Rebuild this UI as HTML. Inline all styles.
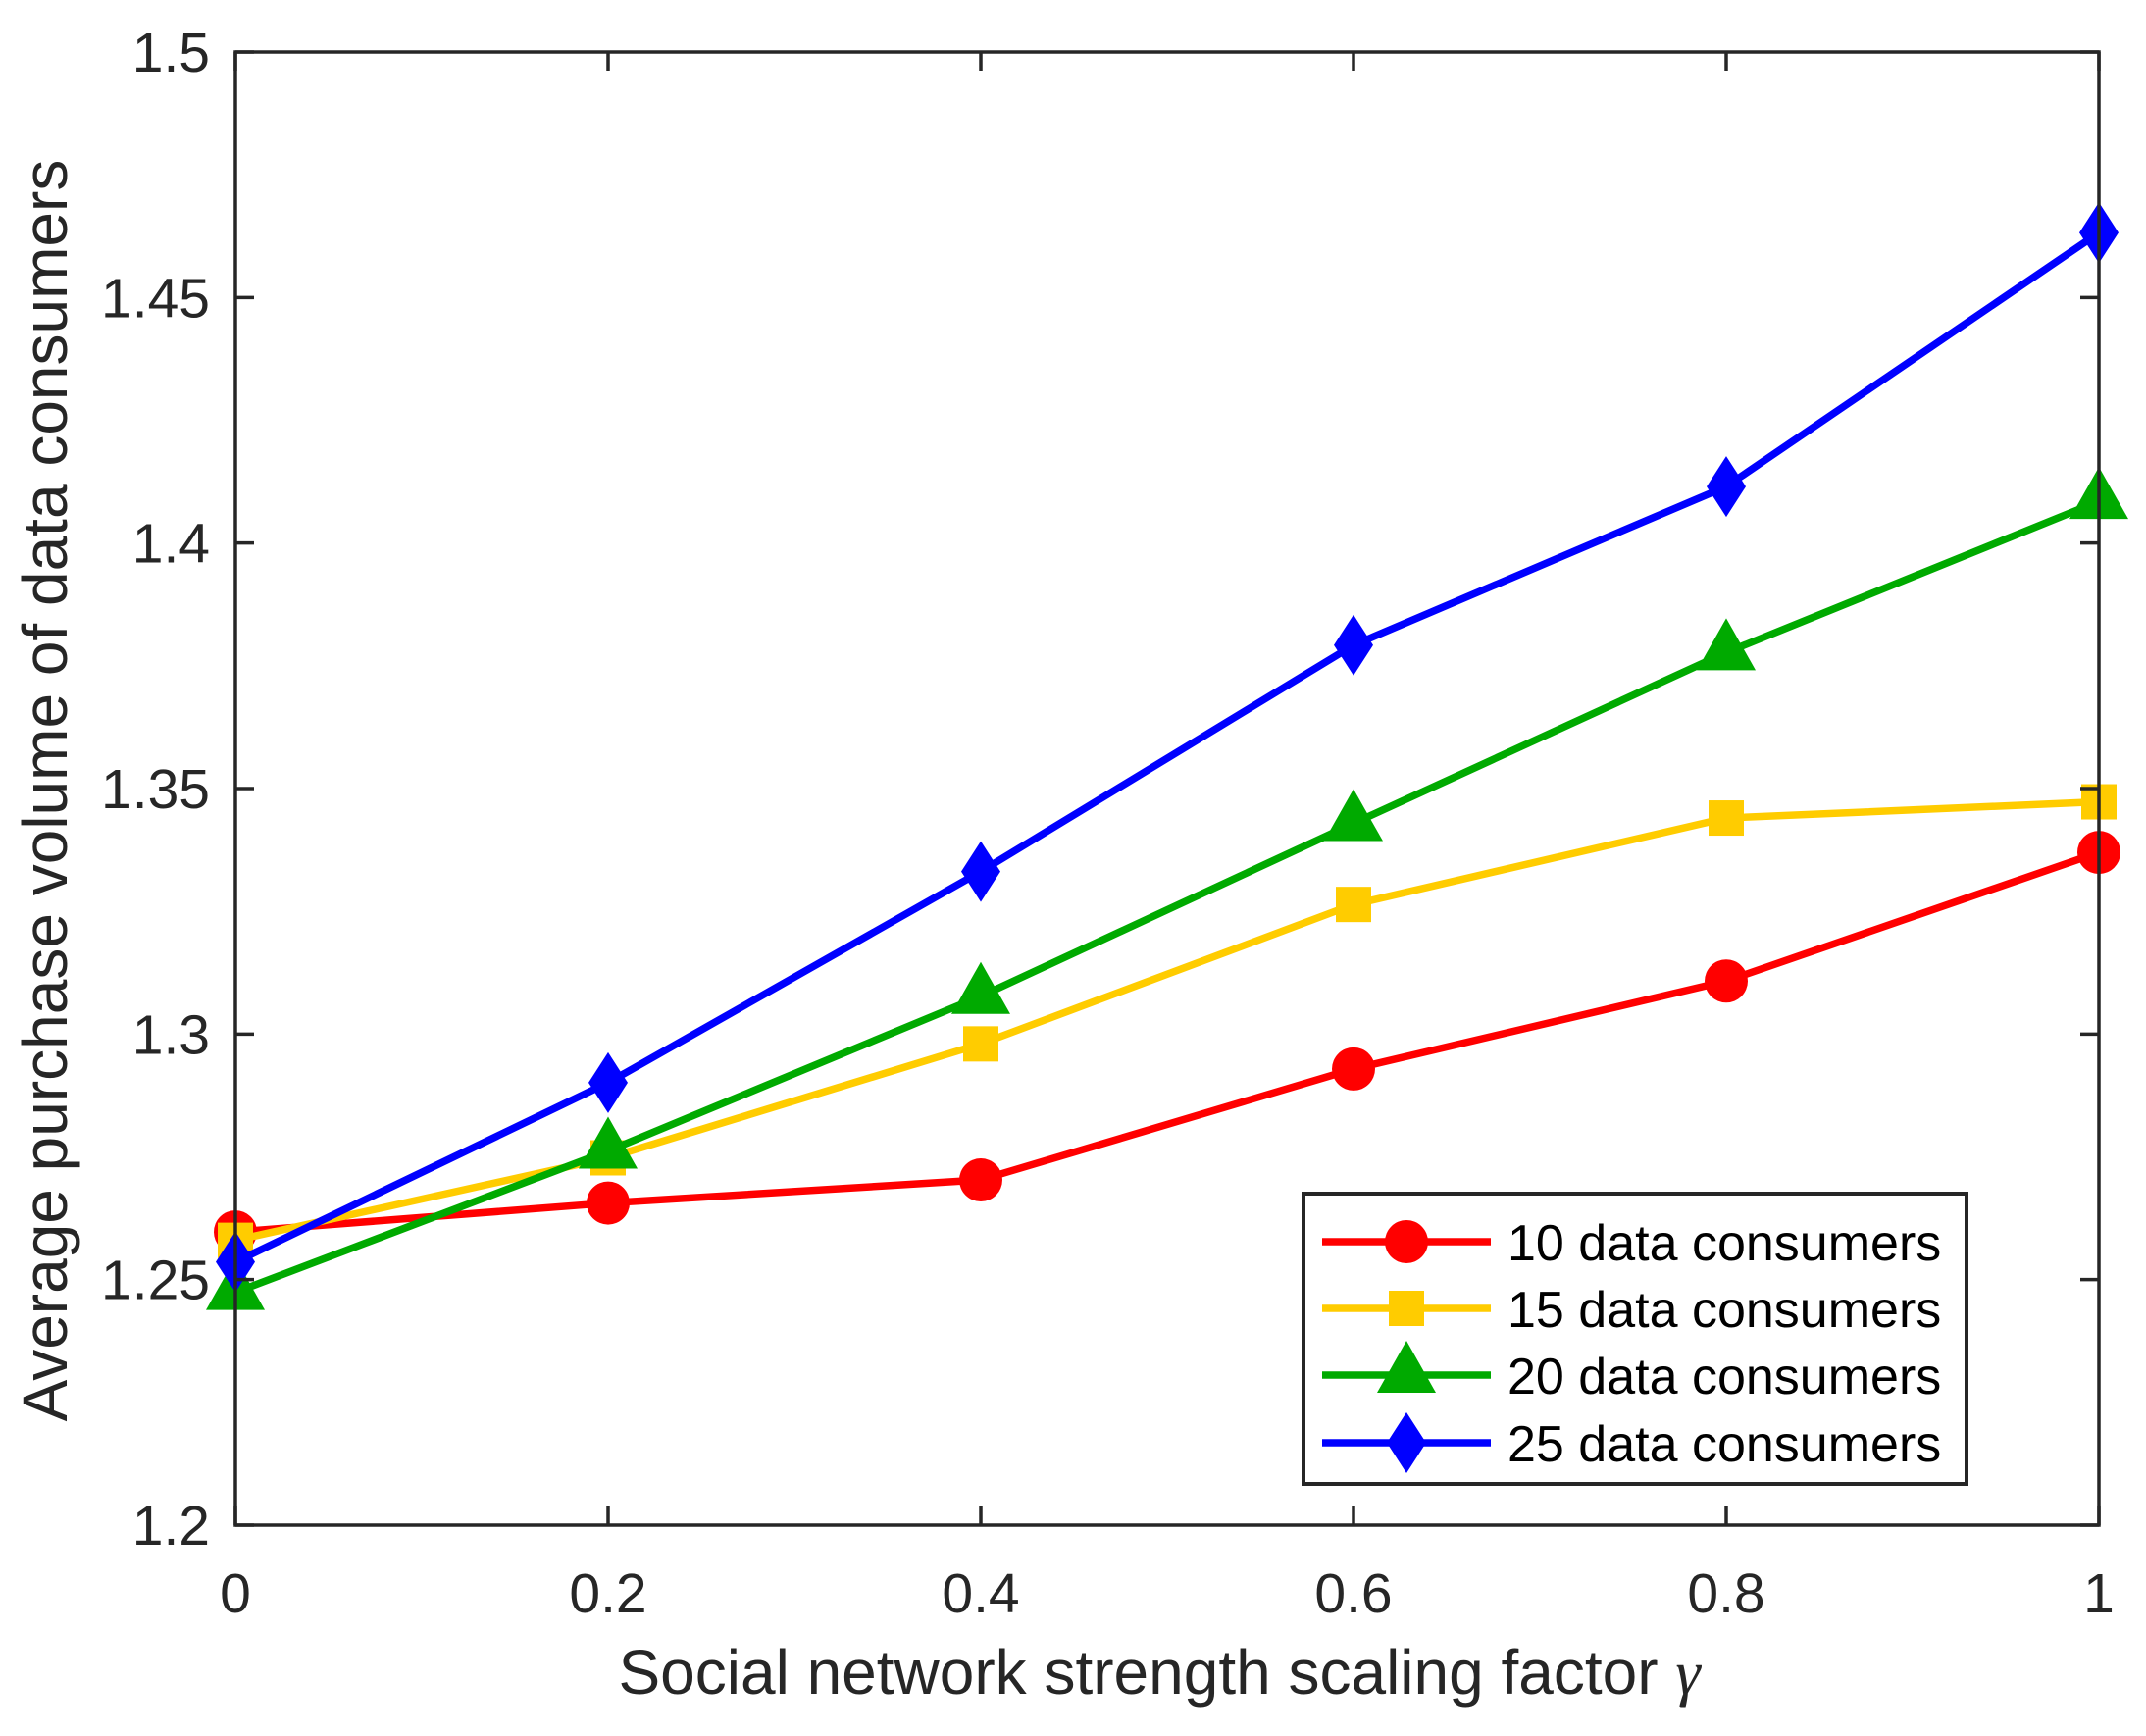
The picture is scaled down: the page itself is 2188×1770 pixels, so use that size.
<!DOCTYPE html>
<html><head><meta charset="utf-8"><style>
html,body{margin:0;padding:0;background:#fff}
svg{display:block}
text{font-family:"Liberation Sans",Arial,sans-serif;fill:#262626}
</style></head><body>
<svg id="chart" width="2188" height="1770" viewBox="0 0 2188 1770" xmlns="http://www.w3.org/2000/svg">
<g id="series"></g>
<g id="axes"></g>
<g id="legend"></g>
</svg>
<script>
const xValues=[0,0.2,0.4,0.6,0.8,1];
const xTickLabels=["0","0.2","0.4","0.6","0.8","1"];
const yTicks=[1.2,1.25,1.3,1.35,1.4,1.45,1.5];
const yTickLabels=["1.2","1.25","1.3","1.35","1.4","1.45","1.5"];
const seriesNames=["10 data consumers","15 data consumers","20 data consumers","25 data consumers"];
const s10=[1.2597,1.2656,1.2703,1.2929,1.3108,1.3370];
const s15=[1.2580,1.2748,1.2980,1.3264,1.3440,1.3473];
const s20=[1.2474,1.2762,1.3077,1.3429,1.3777,1.4085];
const s25=[1.2536,1.2901,1.3331,1.3792,1.4115,1.4632];

const NS="http://www.w3.org/2000/svg";
const L=240,R=2140,T=53,B=1555;
const xMin=0,xMax=1,yMin=1.2,yMax=1.5;
function xs(v){return L+(v-xMin)/(xMax-xMin)*(R-L);}
function ys(v){return B-(v-yMin)/(yMax-yMin)*(B-T);}
function mk(tag,attrs,parent){const e=document.createElementNS(NS,tag);for(const k in attrs)e.setAttribute(k,attrs[k]);parent.appendChild(e);return e;}
const colors=["#ff0000","#ffcc00","#00aa00","#0000ff"];
const markers=["circle","square","triangle","diamond"];
function marker(type,cx,cy,color,parent){
  let e;
  if(type==="circle"){e=mk("ellipse",{cx:cx,cy:cy,rx:22,ry:22,fill:color},parent);}
  else if(type==="square"){e=mk("rect",{x:cx-18,y:cy-18,width:36,height:36,fill:color},parent);}
  else if(type==="triangle"){e=mk("polygon",{points:`${cx},${cy-35} ${cx+30},${cy+18} ${cx-30},${cy+18}`,fill:color},parent);}
  else {e=mk("polygon",{points:`${cx},${cy-31} ${cx+20},${cy} ${cx},${cy+31} ${cx-20},${cy}`,fill:color},parent);}
  return e;
}
const allSeries=[s10,s15,s20,s25];
const sg=document.getElementById("series");
allSeries.forEach((d,i)=>{
  const g=mk("g",{},sg);
  
  
  const pts=d.map((v,j)=>xs(xValues[j])+","+ys(v)).join(" ");
  const pl=mk("polyline",{points:pts,fill:"none",stroke:colors[i],"stroke-width":7.5,"stroke-linejoin":"round"},g);
  
  
  d.forEach((v,j)=>{
    const m=marker(markers[i],xs(xValues[j]),ys(v),colors[i],g);
    
    
  });
});
const ax=document.getElementById("axes");
const frame=mk("rect",{x:L,y:T,width:R-L,height:B-T,fill:"none",stroke:"#262626","stroke-width":3.5},ax);


xValues.forEach((v,i)=>{
  const x=xs(v);
  const t1=mk("line",{x1:x,y1:B,x2:x,y2:B-19,stroke:"#262626","stroke-width":3.5},ax);
  
  
  const t2=mk("line",{x1:x,y1:T,x2:x,y2:T+19,stroke:"#262626","stroke-width":3.5},ax);
  
  
  const tx=mk("text",{x:x,y:1644,"font-size":57,"text-anchor":"middle"},ax);
  tx.textContent=xTickLabels[i];
  
  
});
yTicks.forEach((v,i)=>{
  const y=ys(v);
  const t1=mk("line",{x1:L,y1:y,x2:L+19,y2:y,stroke:"#262626","stroke-width":3.5},ax);
  
  
  const t2=mk("line",{x1:R,y1:y,x2:R-19,y2:y,stroke:"#262626","stroke-width":3.5},ax);
  
  
  const tx=mk("text",{x:214,y:y+20,"font-size":57,"text-anchor":"end"},ax);
  tx.textContent=yTickLabels[i];
  
  
});
const xt=mk("text",{x:1182,y:1727,"font-size":64,"text-anchor":"middle"},ax);
xt.innerHTML='Social network strength scaling factor <tspan font-family="Liberation Serif" font-style="italic">γ</tspan>';


const yt=mk("text",{x:0,y:0,"font-size":64,"text-anchor":"middle",transform:"translate(68,806) rotate(-90)"},ax);
yt.textContent="Average purchase volume of data consumers";



const lg=document.getElementById("legend");
const box=mk("rect",{x:1329,y:1217,width:676,height:296,fill:"#fff",stroke:"#262626","stroke-width":4},lg);


const rowY=[1266,1334,1402,1471];
seriesNames.forEach((n,i)=>{
  const g=mk("g",{},lg);
  
  
  mk("line",{x1:1348,y1:rowY[i],x2:1520,y2:rowY[i],stroke:colors[i],"stroke-width":7.5},g);
  marker(markers[i],1434,rowY[i],colors[i],g);
  const t=mk("text",{x:1537,y:rowY[i]+19,"font-size":52},g);
  t.setAttribute("style","fill:#000");
  t.textContent=n;
});
</script>
</body></html>
